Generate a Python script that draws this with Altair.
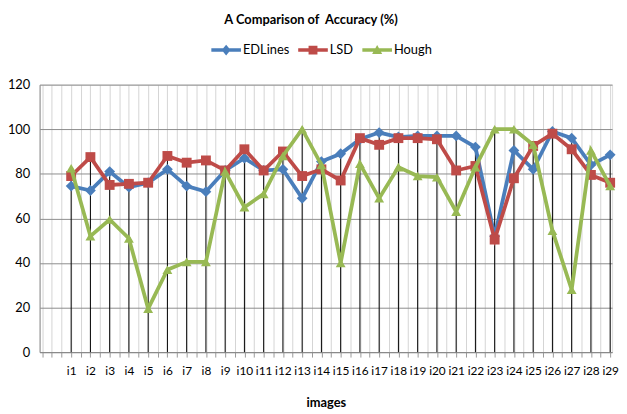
import altair as alt
import pandas as pd

images = [f"i{i}" for i in range(1, 30)]
edlines = [74.5, 72.5, 81, 74, 76, 82, 74.5, 72, 81.5, 87, 81.5, 82, 69, 85.5, 89,
           95.5, 98.5, 96.5, 97, 97, 97, 92, 52, 90.5, 82, 99, 96, 84, 88.5]
lsd = [79, 87.5, 75, 75.5, 76, 88, 85, 86, 81.5, 91, 81.5, 90, 79, 82, 77,
       96, 93, 96, 96, 95.5, 81.5, 83.5, 50.5, 78, 92.5, 98, 91, 79.5, 76]
hough = [82.5, 52, 59.5, 51, 19.5, 37, 40.5, 40.5, 81, 65, 71, 88, 100, 84, 40,
         84.5, 69, 83, 79, 78.5, 63, 83, 100, 100, 93, 54.5, 28, 90.5, 74.5]

series_names = ["EDLines", "LSD", "Hough"]
series_values = [edlines, lsd, hough]
colors = ["#4A7EBB", "#BE4B48", "#98B954"]
marker_shapes = ["diamond", "square", "triangle-up"]
marker_sizes = [120, 100, 100]
legend_paths = [
    "M-1,-0.12H1V0.12H-1Z M0,-0.36L0.3,0L0,0.36L-0.3,0Z",
    "M-1,-0.12H1V0.12H-1Z M-0.3,-0.3H0.3V0.3H-0.3Z",
    "M-1,-0.12H1V0.12H-1Z M0,-0.34L0.34,0.26H-0.34Z",
]

rows = []
for name, vals in zip(series_names, series_values):
    for i, v in enumerate(vals):
        rows.append({"idx": i + 1, "image": images[i], "series": name, "value": v})
df = pd.DataFrame(rows)

drop = pd.DataFrame({
    "idx": list(range(1, 30)),
    "top": [max(a, b, c) for a, b, c in zip(edlines, lsd, hough)],
    "zero": [0] * 29,
})

FONT = "Lato"
x_scale = alt.Scale(domain=[-0.64, 29.1], nice=False, zero=False)
y_scale = alt.Scale(domain=[0, 120], nice=False)
color_scale = alt.Scale(domain=series_names, range=colors)

grid_vals = [i / 2 for i in range(-1, 59)]
x_axis = alt.Axis(
    values=grid_vals,
    labelExpr="datum.value >= 1 && datum.value % 1 == 0 ? 'i' + datum.value : ''",
    grid=True, gridColor="#d4d4d4", gridWidth=1,
    ticks=True, tickColor="#999999", tickSize=5,
    domainColor="#888888",
    labelFont=FONT, labelFontSize=12, labelColor="black", labelPadding=9,
    labelOverlap=False, labelFlush=False, labelBound=False,
    title="images", titleFont=FONT, titleFontSize=13, titleFontWeight="bold",
    titleColor="black", titlePadding=20,
)
y_axis = alt.Axis(
    values=[0, 20, 40, 60, 80, 100, 120],
    grid=True, gridColor="#8c8c8c", gridWidth=1,
    ticks=False, domainColor="#8c8c8c",
    labelFont=FONT, labelFontSize=13, labelColor="black", labelPadding=10,
    title=None,
)

X = alt.X("idx:Q", scale=x_scale, axis=x_axis)
Y = alt.Y("value:Q", scale=y_scale, axis=y_axis)

drops = alt.Chart(drop).mark_rule(color="black", strokeWidth=1).encode(
    x=X, y=alt.Y("top:Q", scale=y_scale, axis=y_axis), y2="zero:Q"
)

layers = [drops]
for name, col, shp, sz in zip(series_names, colors, marker_shapes, marker_sizes):
    sub = alt.Chart(df).transform_filter(alt.datum.series == name)
    layers.append(sub.mark_line(strokeWidth=3.8, color=col).encode(x=X, y=Y))
    layers.append(sub.mark_point(filled=True, shape=shp, size=sz, opacity=1, color=col).encode(x=X, y=Y))

leg = alt.Legend(
    orient="none", legendX=174, legendY=-50, direction="horizontal", title=None,
    symbolSize=900, symbolOpacity=1, symbolStrokeWidth=0,
    labelFont=FONT, labelFontSize=13, labelColor="black", labelOffset=2,
    columnPadding=9,
)
legend_layer = alt.Chart(df).mark_point(filled=True, opacity=0).encode(
    x=X, y=Y,
    color=alt.Color("series:N", scale=color_scale, legend=leg),
    shape=alt.Shape("series:N", scale=alt.Scale(domain=series_names, range=legend_paths), legend=leg),
)
layers.append(legend_layer)

chart = alt.layer(*layers).properties(
    width=580, height=271,
    title=alt.TitleParams("A Comparison of\u00a0 Accuracy (%)", font=FONT, fontSize=13,
                          fontWeight="bold", color="black", anchor="middle", dx=-15, offset=8),
    autosize=alt.AutoSizeParams(type="none"),
    padding={"left": 32, "top": 75, "right": 7, "bottom": 58},
).configure_view(stroke=None).configure(background="white")

chart.save("out.html", embed_options={"renderer": "svg", "actions": False})
